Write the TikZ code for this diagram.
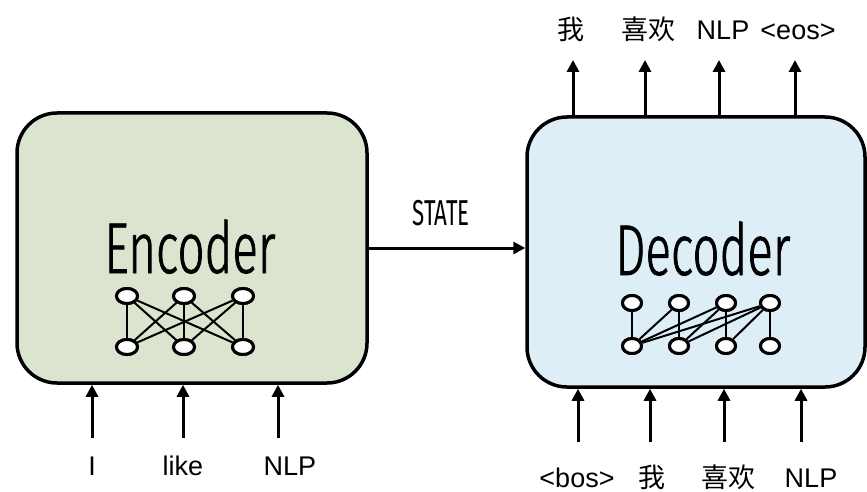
\documentclass[tikz,border=0pt]{standalone}
\usepackage{fontspec}
\setmainfont{Liberation Sans}
\newfontfamily\cjk{Noto Sans CJK SC}
\newfontfamily\condfont[FakeStretch=0.66,FakeBold=1]{Fira Sans Light}
\newfontfamily\narrowfont[FakeStretch=0.62]{Fira Sans}
\usetikzlibrary{arrows.meta,shapes.geometric}

\definecolor{encfill}{RGB}{219,228,207}
\definecolor{decfill}{RGB}{221,238,246}

\tikzset{
  block/.style={draw=black, line width=3.5pt, rounded corners=40pt,
    minimum height=270pt, inner sep=0pt},
  neuron/.style={ellipse, draw=black, fill=white, line width=3pt,
    minimum width=21pt, minimum height=15pt, inner sep=0pt},
  dneuron/.style={neuron, minimum width=19pt},
  synapse/.style={line width=2pt},
  flow/.style={line width=3pt, -{Triangle[length=12pt,width=12pt]}},
  word/.style={font=\fontsize{27}{30}\selectfont, anchor=base, inner sep=0pt},
  bigtitle/.style={font=\condfont\fontsize{72}{74}\selectfont, anchor=base, inner sep=0pt},
}

\begin{document}
\begin{tikzpicture}[x=1pt, y=-1pt]
\useasboundingbox (0,0) rectangle (867,492);

% the two blocks
\node[block, fill=encfill, minimum width=350pt] (enc) at (192,248) {};
\node[block, fill=decfill, minimum width=338pt] (dec) at (696,252) {};

\node[bigtitle] (enctitle) at (190,273) {Encoder};
\node[bigtitle] (dectitle) at (703,275) {Decoder};

% encoder network: fully connected
\foreach \i/\x in {1/127,2/184,3/243} {
  \node[neuron] (et\i) at (\x,296) {};
  \node[neuron] (eb\i) at (\x,347) {};
}
\foreach \i in {1,2,3}
  \foreach \j in {1,2,3}
    \draw[synapse] (et\i) -- (eb\j);
\foreach \i in {1,2,3} {
  \node[neuron] at (et\i) {};
  \node[neuron] at (eb\i) {};
}

% decoder network: causal connections
\foreach \i/\x in {1/632,2/679,3/726,4/770} {
  \node[dneuron] (dt\i) at (\x,303) {};
  \node[dneuron] (db\i) at (\x,346) {};
}
\foreach \i in {1,2,3,4}
  \foreach \j in {1,...,\i}
    \draw[synapse] (dt\i) -- (db\j);
\foreach \i in {1,2,3,4} {
  \node[dneuron] at (dt\i) {};
  \node[dneuron] at (db\i) {};
}

% state passed from encoder to decoder
\draw[flow] (enc.east) -- (enc.east -| dec.west);
\node[font=\narrowfont\fontsize{36}{38}\selectfont, anchor=base, inner sep=0pt] (state) at (441,225) {STATE};

% encoder inputs
\node[word] (ein1) at (92,475) {I};
\node[word] (ein2) at (183,475) {like};
\node[word] (ein3) at (290,475) {NLP};
\foreach \i/\x in {1/92,2/183,3/278} {
  \coordinate (ea\i) at (\x,438);
  \draw[flow] (ea\i) -- (ea\i |- enc.south);
}

% decoder inputs
\node[word] (din1) at (577,487) {<bos>};
\node[word] (din2) at (652,487) {\cjk 我};
\node[word] (din3) at (728,487) {\cjk 喜欢};
\node[word] (din4) at (811,487) {NLP};
\foreach \i/\x in {1/578,2/650,3/724,4/801} {
  \coordinate (da\i) at (\x,442);
  \draw[flow] (da\i) -- (da\i |- dec.south);
}

% decoder outputs
\node[word] (dout1) at (571,40) {\cjk 我};
\node[word] (dout2) at (648,40) {\cjk 喜欢};
\node[word] (dout3) at (723,40) {NLP};
\node[word] (dout4) at (798,40) {<eos>};
\foreach \i/\x in {1/573,2/645,3/719,4/795} {
  \coordinate (do\i) at (\x,60);
  \draw[flow] (dec.north -| do\i) -- (do\i);
}
\end{tikzpicture}
\end{document}
